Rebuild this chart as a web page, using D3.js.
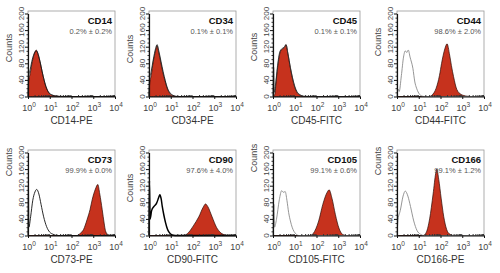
<!DOCTYPE html>
<html>
<head>
<meta charset="utf-8">
<script src="https://cdn.jsdelivr.net/npm/d3@7"></script>
<style>
body { margin: 0; background: #fff; }
svg { display: block; font-family: "Liberation Sans", Arial, sans-serif; }
</style>
</head>
<body>
<div id="chart"></div>
<script>
// markers, one per panel, in reading order
const markers = ["CD14", "CD34", "CD45", "CD44", "CD73", "CD90", "CD105", "CD166"];
const positivity = ["0.2% \u00b1 0.2%", "0.1% \u00b1 0.1%", "0.1% \u00b1 0.1%", "98.6% \u00b1 2.0%",
	"99.9% \u00b1 0.0%", "97.6% \u00b1 4.0%", "99.1% \u00b1 0.6%", "99.1% \u00b1 1.2%"];
const channels = ["CD14-PE", "CD34-PE", "CD45-FITC", "CD44-FITC", "CD73-PE", "CD90-FITC", "CD105-FITC", "CD166-PE"];

const countTicks = [0, 40, 80, 120, 160, 200];
const decadeTicks = [0, 1, 2, 3, 4];

// histograms: [log10 intensity, counts]
const isotypeCurves = [
	[[0,0],[0.02,45],[0.1,65],[0.2,90],[0.3,105],[0.38,110],[0.45,105],[0.55,85],[0.65,60],[0.75,38],[0.85,20],[0.95,10],[1.1,4],[1.3,1],[1.6,0],[4,0]],
	[[0,0],[0.02,40],[0.1,60],[0.2,90],[0.3,115],[0.37,125],[0.45,110],[0.55,85],[0.65,60],[0.75,38],[0.85,20],[0.95,10],[1.1,3],[1.3,0],[4,0]],
	[[0,0],[0.03,70],[0.06,10],[0.12,30],[0.2,70],[0.3,105],[0.4,115],[0.5,118],[0.6,125],[0.68,105],[0.8,70],[0.9,45],[1.0,25],[1.1,12],[1.25,4],[1.4,1],[1.6,0],[4,0]],
	[[0,0],[0.05,18],[0.1,12],[0.2,50],[0.3,95],[0.38,110],[0.45,106],[0.52,112],[0.6,95],[0.73,68],[0.82,35],[0.9,20],[1.04,5],[1.15,1],[1.3,0],[4,0]],
	[[0,0],[0.02,120],[0.04,20],[0.12,45],[0.22,85],[0.32,105],[0.4,111],[0.5,100],[0.6,75],[0.72,45],[0.85,22],[1.0,8],[1.15,3],[1.35,0],[4,0]],
	[[0,0],[0.02,132],[0.05,40],[0.12,60],[0.23,70],[0.35,78],[0.45,92],[0.5,98],[0.56,88],[0.61,70],[0.68,50],[0.76,31],[0.85,15],[0.92,8],[1.07,1],[1.2,0],[4,0]],
	[[0,0],[0.04,75],[0.07,20],[0.16,39],[0.29,86],[0.4,108],[0.48,104],[0.56,106],[0.64,85],[0.72,55],[0.8,35],[0.88,20],[1.05,4],[1.2,0],[4,0]],
	[[0,0],[0.05,39],[0.15,60],[0.28,95],[0.38,107],[0.5,95],[0.62,70],[0.77,35],[0.92,12],[1.08,3],[1.23,0],[4,0]]
];
const stainedCurves = [
	[[0,0],[0.03,35],[0.1,55],[0.2,85],[0.3,105],[0.38,112],[0.47,100],[0.57,80],[0.67,55],[0.77,33],[0.87,18],[0.97,8],[1.1,3],[1.3,1],[1.6,0],[4,0]],
	[[0,0],[0.03,30],[0.1,50],[0.2,85],[0.3,110],[0.37,122],[0.45,105],[0.55,80],[0.65,55],[0.75,35],[0.85,18],[0.95,8],[1.1,2],[1.3,0],[4,0]],
	[[0,0],[0.08,5],[0.15,40],[0.25,85],[0.35,110],[0.45,115],[0.55,120],[0.6,125],[0.68,105],[0.8,68],[0.9,42],[1.0,22],[1.1,10],[1.25,3],[1.4,0],[4,0]],
	[[0,0],[1.5,0],[1.6,3],[1.8,20],[1.95,50],[2.05,80],[2.2,115],[2.3,127],[2.42,100],[2.5,75],[2.6,48],[2.75,17],[2.95,5],[3.2,1],[3.4,0],[4,0]],
	[[0,0],[2.25,0],[2.4,5],[2.55,14],[2.72,39],[2.85,62],[2.95,86],[3.1,112],[3.21,123],[3.3,100],[3.41,63],[3.5,30],[3.56,12],[3.65,3],[3.75,0],[4,0]],
	[[0,0],[1.6,0],[1.83,8],[2.06,25],[2.29,45],[2.49,68],[2.6,76],[2.7,70],[2.9,45],[3.1,20],[3.29,7],[3.52,1],[3.7,0],[4,0]],
	[[0,0],[1.7,0],[1.85,5],[2.1,35],[2.29,75],[2.5,105],[2.58,110],[2.71,90],[2.87,50],[3.03,18],[3.19,3],[3.35,0],[4,0]],
	[[0,0],[1.2,0],[1.35,8],[1.5,40],[1.66,100],[1.78,150],[1.83,160],[1.92,135],[2.03,90],[2.15,45],[2.28,15],[2.43,3],[2.6,0],[4,0]]
];

// layout
const width = 500;
const height = 273;
const colLeft = [28, 149, 273, 397];
const rowTop = [11, 150];
const plotW = 87;
const plotH = 85.5;
const countsLabelY = [37, 38, 36, 31, 12, 38, 8, 11];
const isotypeStroke = ["#111", "#111", "#222", "#8a8a8a", "#111", "#000", "#8a8a8a", "#8a8a8a"];
const isotypeWidth = [0.8, 0.8, 0.8, 0.9, 0.9, 1.5, 0.9, 0.9];

const svg = d3.select("#chart").append("svg")
	.attr("width", width)
	.attr("height", height)
	.attr("viewBox", [0, 0, width, height]);

markers.forEach((name, i) => {
	const left = colLeft[i % 4];
	const top = rowTop[Math.floor(i / 4)];
	const bottom = top + plotH;

	const x = d3.scaleLog().domain([1, 1e4]).range([left, left + plotW]);
	const y = d3.scaleLinear().domain([0, 200]).range([bottom, top + 2.5]);

	const g = svg.append("g");

	// frame
	g.append("rect")
		.attr("x", left).attr("y", top)
		.attr("width", plotW).attr("height", plotH)
		.attr("fill", "none").attr("stroke", "#9a9a9a").attr("stroke-width", 0.8);

	const area = d3.area()
		.x(d => x(Math.pow(10, d[0])))
		.y0(bottom)
		.y1(d => y(d[1]))
		.curve(d3.curveMonotoneX);
	const line = d3.line()
		.x(d => x(Math.pow(10, d[0])))
		.y(d => y(d[1]))
		.curve(d3.curveMonotoneX);

	g.append("path")
		.attr("d", area(stainedCurves[i]))
		.attr("fill", "#c6321d")
		.attr("stroke", "#2a0a05")
		.attr("stroke-width", 0.7);

	g.append("path")
		.attr("d", line(isotypeCurves[i]))
		.attr("fill", "none")
		.attr("stroke", isotypeStroke[i])
		.attr("stroke-width", isotypeWidth[i]);

	// y axis
	const minorCounts = d3.range(0, 201, 10).filter(v => v % 40 !== 0);
	g.append("g")
		.attr("transform", `translate(${left},0)`)
		.call(d3.axisLeft(y).tickValues(minorCounts).tickSize(1.5).tickFormat(""))
		.call(a => a.select(".domain").remove())
		.selectAll("line").attr("stroke", "#333");
	const yAxis = g.append("g")
		.attr("transform", `translate(${left},0)`)
		.call(d3.axisLeft(y).tickValues(countTicks).tickSize(3).tickSizeOuter(0).tickFormat(""));
	yAxis.select(".domain").attr("stroke", "#111").attr("stroke-width", 1.2);
	yAxis.selectAll("line").attr("stroke", "#111");

	countTicks.forEach(v => {
		g.append("text")
			.attr("transform", `translate(${left - 4},${y(v)}) rotate(-90)`)
			.attr("text-anchor", "middle")
			.attr("font-size", 8)
			.attr("fill", "#444")
			.text(v);
	});

	g.append("text")
		.attr("transform", `translate(${left - 16},${top + countsLabelY[i]}) rotate(-90)`)
		.attr("text-anchor", "middle")
		.attr("font-size", 9)
		.attr("fill", "#444")
		.text("Counts");

	// x axis
	const minorDecades = [];
	[1, 10, 100, 1000].forEach(b => { for (let k = 2; k < 10; k++) minorDecades.push(b * k); });
	g.append("g")
		.attr("transform", `translate(0,${bottom})`)
		.call(d3.axisTop(x).tickValues(minorDecades).tickSize(1.5).tickFormat(""))
		.call(a => a.select(".domain").remove())
		.selectAll("line").attr("stroke", "#333");
	const xAxis = g.append("g")
		.attr("transform", `translate(0,${bottom})`)
		.call(d3.axisBottom(x).tickValues(decadeTicks.map(e => Math.pow(10, e))).tickSize(2.5).tickSizeOuter(0).tickFormat(""));
	xAxis.select(".domain").attr("stroke", "#111").attr("stroke-width", 1.2);
	xAxis.selectAll("line").attr("stroke", "#111");

	decadeTicks.forEach(e => {
		const t = g.append("text")
			.attr("x", x(Math.pow(10, e)) + 1)
			.attr("y", bottom + 14)
			.attr("text-anchor", "middle")
			.attr("font-size", 9)
			.attr("fill", "#444");
		t.append("tspan").text("10");
		t.append("tspan").attr("dy", -4).attr("font-size", 6.5).text(e);
	});

	g.append("text")
		.attr("x", left + plotW / 2)
		.attr("y", bottom + 27)
		.attr("text-anchor", "middle")
		.attr("font-size", 10)
		.attr("fill", "#333")
		.text(channels[i]);

	// labels in panel
	g.append("text")
		.attr("x", left + plotW - 3)
		.attr("y", top + 13)
		.attr("text-anchor", "end")
		.attr("font-size", 9.5)
		.attr("font-weight", "bold")
		.attr("fill", "#111")
		.text(name);
	g.append("text")
		.attr("x", left + plotW - 3)
		.attr("y", top + 23)
		.attr("text-anchor", "end")
		.attr("font-size", 7.5)
		.attr("fill", "#555")
		.text(positivity[i]);
});
</script>
</body>
</html>
